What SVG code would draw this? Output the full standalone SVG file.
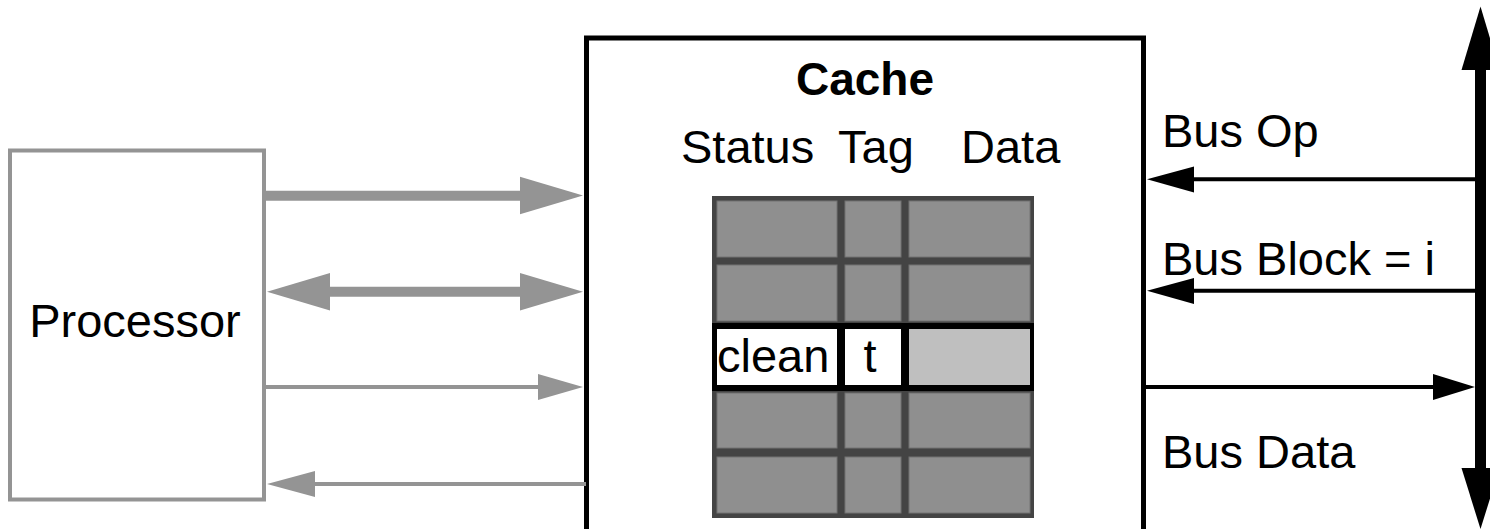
<svg xmlns="http://www.w3.org/2000/svg" width="1490" height="529" viewBox="0 0 1490 529">
<style>
text{font-family:"Liberation Sans",Arial,sans-serif;font-size:47px;fill:#000}
.bold{font-weight:bold;font-size:46px}
.gline{stroke:#949494;fill:none}
.ghead{fill:#949494;stroke:none}
.bline{stroke:#000;stroke-width:4;fill:none}
.bhead{fill:#000;stroke:none}
.cell{fill:#8f8f8f;stroke:#727272;stroke-width:1}
</style>
<rect width="1490" height="529" fill="#fff"/>
<g id="processor">
<rect x="10" y="150.5" width="254" height="349" fill="#fff" stroke="#949494" stroke-width="4"/>
<text x="135" y="337" text-anchor="middle">Processor</text>
</g>
<g id="cache">
<rect x="586.5" y="38" width="557" height="520" fill="#fff" stroke="#000" stroke-width="5"/>
<text class="bold" x="865" y="95" text-anchor="middle">Cache</text>
<text x="681" y="163">Status</text>
<text x="838" y="163">Tag</text>
<text x="961" y="163">Data</text>
</g>
<g id="cache-table">
<rect x="712" y="196" width="322" height="322" fill="#444"/>
<rect class="cell" x="717" y="201" width="120" height="56"/>
<rect class="cell" x="845" y="201" width="56" height="56"/>
<rect class="cell" x="909" y="201" width="121" height="56"/>
<rect class="cell" x="717" y="265" width="120" height="56"/>
<rect class="cell" x="845" y="265" width="56" height="56"/>
<rect class="cell" x="909" y="265" width="121" height="56"/>
<rect class="cell" x="717" y="393" width="120" height="55"/>
<rect class="cell" x="845" y="393" width="56" height="55"/>
<rect class="cell" x="909" y="393" width="121" height="55"/>
<rect class="cell" x="717" y="457" width="120" height="56"/>
<rect class="cell" x="845" y="457" width="56" height="56"/>
<rect class="cell" x="909" y="457" width="121" height="56"/>
</g>
<g id="selected-row">
<rect x="712" y="323" width="322" height="68" fill="#000"/>
<rect x="717" y="329" width="120" height="56" fill="#fff"/>
<rect x="845" y="329" width="56" height="56" fill="#fff"/>
<rect x="909" y="329" width="121" height="56" fill="#bfbfbf"/>
<text x="717" y="372">clean</text>
<text x="870" y="372" text-anchor="middle">t</text>
</g>
<g id="bus">
<rect x="1475" y="69" width="11" height="400" fill="#000"/>
<polygon class="bhead" points="1480.5,6.5 1461.5,70 1499.5,70"/>
<polygon class="bhead" points="1461.5,468 1499.5,468 1480.5,529"/>
</g>
<g id="connectors">
<line class="gline" x1="264" y1="195.7" x2="522" y2="195.7" stroke-width="10"/>
<polygon class="ghead" points="583,195.5 520,176.7 520,214.3"/>
<line class="gline" x1="328" y1="291.7" x2="522" y2="291.7" stroke-width="10"/>
<polygon class="ghead" points="267,291.7 330,273 330,310.5"/>
<polygon class="ghead" points="583,291.7 520,273 520,310.5"/>
<line class="gline" x1="264" y1="387" x2="540" y2="387" stroke-width="4"/>
<polygon class="ghead" points="583,387 538,374 538,400"/>
<line class="gline" x1="586" y1="484" x2="313" y2="484" stroke-width="4"/>
<polygon class="ghead" points="267,484 315,471 315,497"/>
<line class="bline" x1="1476" y1="179.3" x2="1192" y2="179.3"/>
<polygon class="bhead" points="1147,179.3 1194,166.5 1194,192.5"/>
<line class="bline" x1="1476" y1="290.7" x2="1192" y2="290.7"/>
<polygon class="bhead" points="1147,290.7 1194,278 1194,304"/>
<line class="bline" x1="1146" y1="387" x2="1435" y2="387"/>
<polygon class="bhead" points="1475,387 1433,374 1433,400"/>
</g>
<g id="labels">
<text x="1162" y="147">Bus Op</text>
<text x="1162" y="275">Bus Block = i</text>
<text x="1162" y="468">Bus Data</text>
</g>
</svg>
